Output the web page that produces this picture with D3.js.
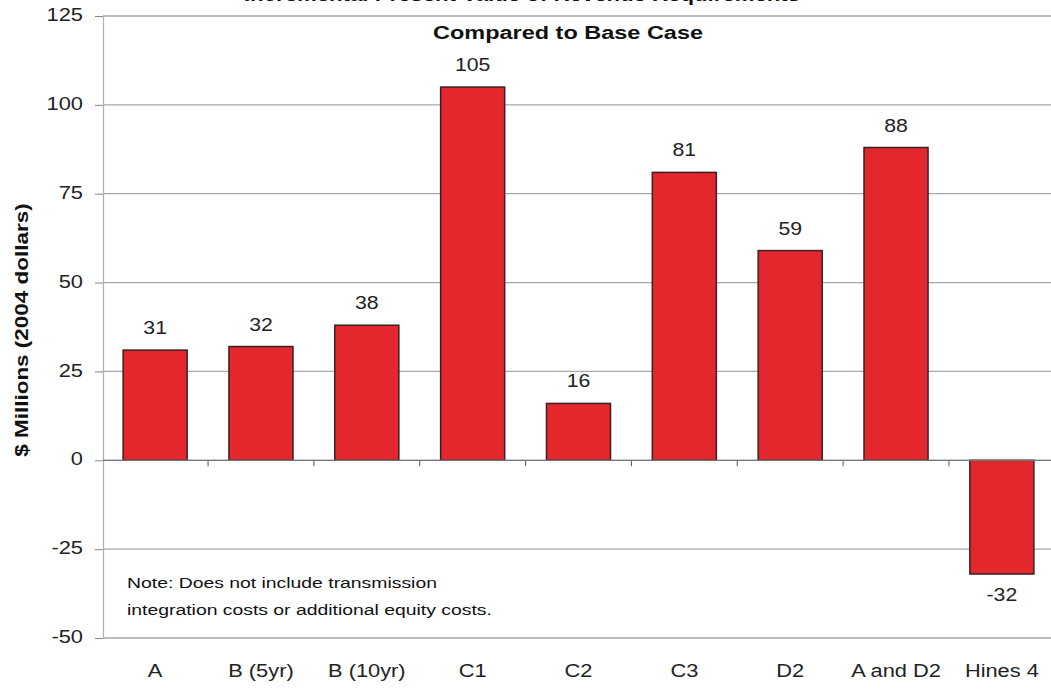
<!DOCTYPE html>
<html><head><meta charset="utf-8">
<script src="https://cdn.jsdelivr.net/npm/d3@7"></script>
<style>
html,body{margin:0;padding:0;background:#fff;}
svg{display:block;font-family:"Liberation Sans",Arial,sans-serif;}
</style></head>
<body>
<svg id="chart" width="1051" height="689"></svg>
<script>
const categories = ["A", "B (5yr)", "B (10yr)", "C1", "C2", "C3", "D2", "A and D2", "Hines 4"];
const values = [31, 32, 38, 105, 16, 81, 59, 88, -32];
const yTicks = [-50, -25, 0, 25, 50, 75, 100, 125];
const titleText = "Incremental Present Value of Revenue Requirements";
const subtitleText = "Compared to Base Case";
const yLabel = "$ Millions (2004 dollars)";
const noteLines = ["Note: Does not include transmission", "integration costs or additional equity costs."];

const svg = d3.select("#chart");
const plotLeft = 103, plotRight = 1054, plotTop = 16, plotBottom = 638;
const SX = 1.18; // horizontal stretch of the original's lettering

const x = d3.scaleBand().domain(categories).range([plotLeft, plotRight]).paddingInner(0.395).paddingOuter(0.19);
const y = d3.scaleLinear().domain([-50, 125]).range([plotBottom, plotTop]);

// gridlines
svg.append("g").selectAll("line").data(yTicks).join("line")
  .attr("x1", plotLeft).attr("x2", 1051)
  .attr("y1", d => y(d)).attr("y2", d => y(d))
  .attr("stroke", d => (d === 125 || d === -50) ? "#7a7a7a" : "#a8a8a8")
  .attr("stroke-width", 1.2);

// y axis
const yAxis = d3.axisLeft(y).tickValues(yTicks).tickSize(8).tickPadding(9).tickFormat(d3.format("d"));
const gy = svg.append("g").attr("transform", `translate(${plotLeft},0)`).call(yAxis);
gy.select(".domain").attr("stroke", "#b0b0b0").attr("stroke-width", 1.2);
gy.selectAll(".tick line").attr("stroke", "#888");
gy.selectAll(".tick text").attr("font-size", 18.5).attr("fill", "#222")
  .attr("font-family", "Liberation Sans, Arial, sans-serif")
  .attr("transform", `scale(${SX},1)`)
  .attr("dy", "0.25em")
  .text(d => d3.format("d")(d).replace("\u2212", "-"));

// category boundary ticks on zero line
const bounds = d3.range(1, categories.length).map(i => x(categories[i]) - x.step() * x.paddingInner() / 2);
svg.append("g").selectAll("line").data(bounds).join("line")
  .attr("x1", d => d).attr("x2", d => d)
  .attr("y1", y(0)).attr("y2", y(0) + 6)
  .attr("stroke", "#555").attr("stroke-width", 1);

// bars
svg.append("g").selectAll("rect").data(values).join("rect")
  .attr("x", (d, i) => x(categories[i]))
  .attr("width", x.bandwidth())
  .attr("y", d => y(Math.max(0, d)))
  .attr("height", d => Math.abs(y(d) - y(0)))
  .attr("fill", "#e4272d")
  .attr("stroke", "#3a2020").attr("stroke-width", 1.5);

// zero line
svg.append("line").attr("x1", plotLeft).attr("x2", 1051).attr("y1", y(0)).attr("y2", y(0))
  .attr("stroke", "#777").attr("stroke-width", 1.2);

// value labels
svg.append("g").selectAll("text").data(values).join("text")
  .attr("transform", (d, i) => `translate(${x(categories[i]) + x.bandwidth() / 2},${d >= 0 ? y(d) - 16 : y(d) + 27}) scale(${SX},1)`)
  .attr("text-anchor", "middle").attr("font-size", 18).attr("fill", "#222")
  .text(d => d);

// x labels
svg.append("g").selectAll("text").data(categories).join("text")
  .attr("transform", d => `translate(${x(d) + x.bandwidth() / 2},677) scale(${SX},1)`)
  .attr("text-anchor", "middle").attr("font-size", 18.5).attr("fill", "#222")
  .text(d => d);

// titles (first line is cropped at the top edge in the original)
svg.append("text").attr("transform", `translate(522,0.5) scale(1.2,1)`).attr("text-anchor", "middle")
  .attr("font-size", 18.5).attr("font-weight", "bold").attr("fill", "#111").text(titleText);
svg.append("text").attr("transform", `translate(568,39) scale(1.27,1)`).attr("text-anchor", "middle")
  .attr("font-size", 18.5).attr("font-weight", "bold").attr("fill", "#111").text(subtitleText);

// y label
svg.append("text").attr("transform", "translate(28,330) rotate(-90) scale(1.25,1)")
  .attr("text-anchor", "middle").attr("font-size", 18).attr("font-weight", "bold").attr("fill", "#111")
  .text(yLabel);

// note
svg.append("g").selectAll("text").data(noteLines).join("text")
  .attr("transform", (d, i) => `translate(127,${588 + i * 27}) scale(1.25,1)`)
  .attr("font-size", 15.5).attr("fill", "#111").text(d => d);
</script>
</body></html>
